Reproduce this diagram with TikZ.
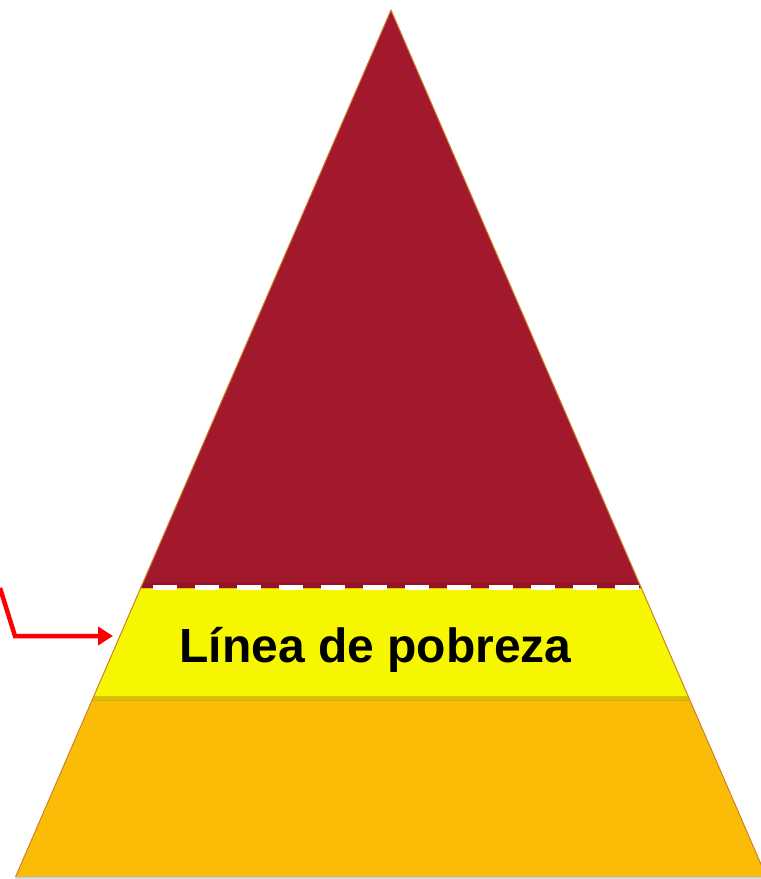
\documentclass[tikz,border=0pt]{standalone}
\usepackage{fontspec}
\setmainfont{Liberation Sans}
\usetikzlibrary{arrows.meta}
\definecolor{topred}{RGB}{162,24,44}
\definecolor{topredd}{RGB}{140,16,34}
\definecolor{midyel}{RGB}{246,246,0}
\definecolor{midyeld}{RGB}{200,170,10}
\definecolor{botorg}{RGB}{251,188,8}
\definecolor{edgec}{RGB}{205,130,40}
\definecolor{arrred}{RGB}{255,0,0}
\tikzset{
  band/.style={draw=none},
  edgeline/.style={draw=edgec, line width=1pt, line join=round},
  dashline/.style={draw=white, line width=5pt, dash pattern=on 24pt off 18pt},
  pointer/.style={draw=arrred, line width=4.5pt, -{Triangle[length=15pt,width=18pt]}},
  lbltext/.style={font=\fontsize{48}{52}\selectfont\bfseries, text=black, inner sep=0pt, anchor=base}
}
\begin{document}
\begin{tikzpicture}[x=1pt,y=-1pt]
\useasboundingbox (0,0) rectangle (761,879);
\clip (0,0) rectangle (761,879);
% key points of the pyramid
\coordinate (apex) at (391,10);
\coordinate (l1) at (140.6,588);
\coordinate (r1) at (641.4,588);
\coordinate (l2) at (92.1,700);
\coordinate (r2) at (689.9,700);
\coordinate (l3) at (15.5,877);
\coordinate (r3) at (766.5,877);
% bands
\fill[band, botorg] (l2) -- (r2) -- (r3) -- (l3) -- cycle;
\fill[band, midyel] (l1) -- (r1) -- (r2) -- (l2) -- cycle;
\fill[band, topred] (apex) -- (r1) -- (l1) -- cycle;
% bevel shadows
\fill[topredd, opacity=0.6] (142.5,583) -- (639.5,583) -- (641.4,588) -- (140.6,588) -- cycle;
\fill[midyeld, opacity=0.7] (93.8,696) -- (688.2,696) -- (689.9,701) -- (92.1,701) -- cycle;
\fill[black!30, opacity=0.5] (16,876) -- (766,876) -- (767,879) -- (15,879) -- cycle;
% outline
\draw[edgeline] (l3) -- (apex) -- (r3);
% dashed poverty line
\coordinate (dL) at (153,587);
\coordinate (dR) at (640,587);
\draw[dashline] (dL) -- (dR);
% label
\node[lbltext] (lbl) at (375.5,662) {Línea de pobreza};
% pointer arrow
\coordinate (arrS) at (0,588);
\coordinate (arrK) at (15,636);
\coordinate (arrE) at (113,636);
\draw[pointer] (arrS) -- (arrK) -- (arrE);
\end{tikzpicture}
\end{document}
